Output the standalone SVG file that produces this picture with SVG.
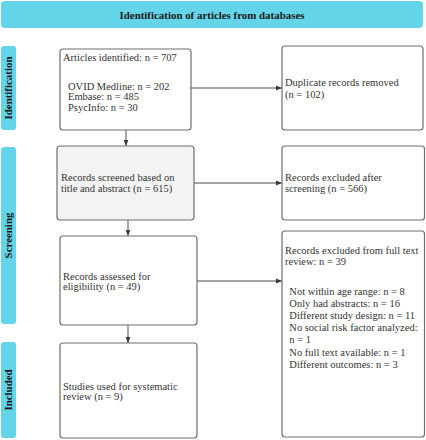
<svg xmlns="http://www.w3.org/2000/svg" width="426" height="440" viewBox="0 0 426 440">
<defs>
<style>
.box{fill:#ffffff;stroke:#6e6e6e;stroke-width:1.2}
.shade{fill:#f3f3f3}
.band{fill:#64d4e8}
.t{font-family:"Liberation Serif","Times New Roman",serif;font-size:10.5px;fill:#333333}
.h{font-family:"Liberation Serif","Times New Roman",serif;font-size:10.9px;font-weight:bold;fill:#1a1a1a}
.c{fill:none;stroke:#4a4a4a;stroke-width:1}
</style>
<marker id="ah" viewBox="0 0 10 10" refX="10" refY="5" markerWidth="6" markerHeight="6" markerUnits="userSpaceOnUse" orient="auto">
<path d="M0,1 L10,5 L0,9 z" fill="#3a3a3a"/>
</marker>
</defs>
<rect width="426" height="440" fill="#ffffff"/>

<g id="banner">
<rect class="band" x="1" y="1" width="422" height="27" rx="4"/>
<text class="h" x="212" y="18.5" text-anchor="middle">Identification of articles from databases</text>
</g>

<g id="phase-identification">
<rect class="band" x="1" y="46" width="15" height="84" rx="3"/>
<text class="h" transform="translate(12,88) rotate(-90)" text-anchor="middle">Identification</text>
</g>
<g id="phase-screening">
<rect class="band" x="1" y="147" width="15" height="177" rx="3"/>
<text class="h" transform="translate(12,235.5) rotate(-90)" text-anchor="middle">Screening</text>
</g>
<g id="phase-included">
<rect class="band" x="1" y="342" width="15" height="96" rx="3"/>
<text class="h" transform="translate(12,390) rotate(-90)" text-anchor="middle">Included</text>
</g>

<g id="connectors">
<line class="c" x1="191" y1="88" x2="282" y2="88" marker-end="url(#ah)"/>
<line class="c" x1="126" y1="130" x2="126" y2="146" marker-end="url(#ah)"/>
<line class="c" x1="194" y1="183" x2="282" y2="183" marker-end="url(#ah)"/>
<line class="c" x1="128" y1="220" x2="128" y2="236" marker-end="url(#ah)"/>
<line class="c" x1="197" y1="281" x2="282" y2="281" marker-end="url(#ah)"/>
<line class="c" x1="128" y1="325" x2="128" y2="343" marker-end="url(#ah)"/>
</g>

<g id="identified">
<rect class="box" x="60" y="49" width="131" height="81" rx="3"/>
<text class="t" x="63" y="61">Articles identified: n = 707</text>
<text class="t" x="68" y="89.5">OVID Medline: n = 202</text>
<text class="t" x="68" y="100.3">Embase: n = 485</text>
<text class="t" x="68" y="111">PsycInfo: n = 30</text>
</g>

<g id="duplicates">
<rect class="box" x="282" y="46" width="141" height="84" rx="3"/>
<text class="t" x="285" y="86">Duplicate records removed</text>
<text class="t" x="285" y="97.5">(n = 102)</text>
</g>

<g id="screened">
<rect class="box shade" x="57" y="146" width="137" height="74" rx="3"/>
<text class="t" x="61" y="181.3">Records screened based on</text>
<text class="t" x="61" y="192">title and abstract (n = 615)</text>
</g>

<g id="excluded-screening">
<rect class="box" x="282" y="146" width="142.5" height="74" rx="3"/>
<text class="t" x="285" y="181.3">Records excluded after</text>
<text class="t" x="285" y="192">screening (n = 566)</text>
</g>

<g id="eligibility">
<rect class="box" x="60" y="236" width="137" height="89" rx="3"/>
<text class="t" x="63" y="279.5">Records assessed for</text>
<text class="t" x="63" y="290">eligibility (n = 49)</text>
</g>

<g id="excluded-fulltext">
<rect class="box" x="282" y="231" width="142.5" height="206" rx="3"/>
<text class="t" x="285" y="254.2">Records excluded from full text</text>
<text class="t" x="285" y="264.5">review: n = 39</text>
<text class="t" x="289.3" y="294.5">Not within age range: n = 8</text>
<text class="t" x="289.3" y="306.7">Only had abstracts: n = 16</text>
<text class="t" x="289.3" y="318.9">Different study design: n = 11</text>
<text class="t" x="289.3" y="331.1">No social risk factor analyzed:</text>
<text class="t" x="289.3" y="343.3">n = 1</text>
<text class="t" x="289.3" y="355.5">No full text available: n = 1</text>
<text class="t" x="289.3" y="367.7">Different outcomes: n = 3</text>
</g>

<g id="included">
<rect class="box" x="60" y="343" width="137" height="95" rx="3"/>
<text class="t" x="63" y="389.5">Studies used for systematic</text>
<text class="t" x="63" y="400">review (n = 9)</text>
</g>
</svg>
